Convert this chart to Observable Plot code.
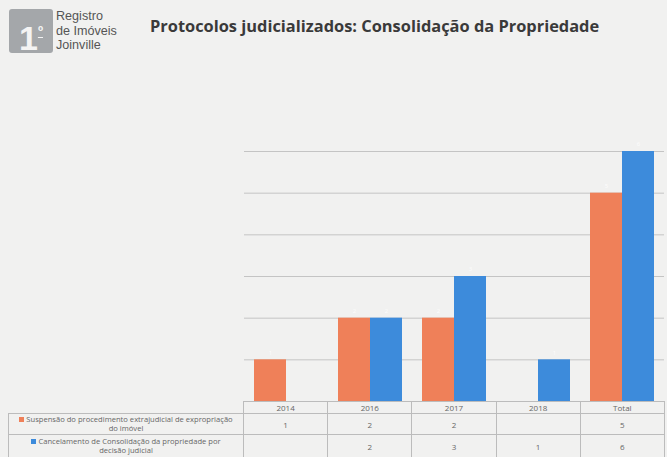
<!DOCTYPE html>
<html><head><meta charset="utf-8">
<script src="https://cdn.jsdelivr.net/npm/d3@7"></script>
<script src="https://cdn.jsdelivr.net/npm/@observablehq/plot@0.6"></script>
<style>
  body{margin:0;width:667px;height:457px;overflow:hidden;background:#f1f1f0;font-family:"Open Sans",sans-serif;position:relative}
  #logo{position:absolute;left:9px;top:9px;width:44px;height:44px;background:#a4a7aa;border-radius:3px;color:#f4f4f4;font:bold 34px/44px "Liberation Sans",sans-serif;text-align:center}
  #logo sup{font-size:14px;vertical-align:14px;text-decoration:underline}
  #brand{position:absolute;left:56px;top:9px;font:12.6px/14.5px "Liberation Sans",sans-serif;color:#555}
  #title{position:absolute;left:150px;top:14px;font:700 16.4px "Open Sans",sans-serif;color:#3a3a3a;white-space:nowrap}
  #chart{position:absolute;left:0;top:130px}
  table{position:absolute;left:8px;top:401px;border-collapse:collapse;table-layout:fixed;color:#666}
  td{border:1px solid #bcbcbc;text-align:center;padding:0;font-size:8px;overflow:hidden}
  td.lab{text-align:center;font-size:7.6px;line-height:9.5px;padding:0 8px}
  tr.h td{height:10px}
  tr.h td:first-child{border:none}
  tr.r1 td{height:20px}
  tr.r2 td{height:22px}
  .sw{display:inline-block;width:5px;height:5px;margin-right:2px}
</style></head>
<body>
<div id="logo">1<sup>º</sup></div>
<div id="brand">Registro<br>de Imóveis<br>Joinville</div>
<div id="title">Protocolos judicializados: Consolidação da Propriedade</div>
<div id="chart"></div>
<table id="tbl"></table>
<script>
const categories = ["2014", "2016", "2017", "2018", "Total"];
const seriesNames = [
  "Suspensão do procedimento extrajudicial de expropriação do imóvel",
  "Cancelamento de Consolidação da propriedade por decisão judicial"
];
const suspensao = [1, 2, 2, null, 5];
const cancelamento = [null, 2, 3, 1, 6];
const colors = ["#ef8059", "#3d8bdb"];
const gridTicks = [1, 2, 3, 4, 5, 6];

const data = [];
categories.forEach((c, i) => {
  if (suspensao[i] != null) data.push({cat: c, s: seriesNames[0], v: suspensao[i]});
  if (cancelamento[i] != null) data.push({cat: c, s: seriesNames[1], v: cancelamento[i]});
});

const chart = Plot.plot({
  width: 667, height: 271,
  marginLeft: 243, marginRight: 3, marginTop: 21, marginBottom: 0,
  style: {background: "transparent"},
  fx: {domain: categories, paddingInner: 0, paddingOuter: 0, axis: null},
  x: {domain: seriesNames, paddingInner: 0, paddingOuter: 0.3125, axis: null},
  y: {domain: [0, 6], axis: null},
  color: {domain: seriesNames, range: colors},
  marks: [
    Plot.gridY(gridTicks, {stroke: "#c4c4c4", strokeOpacity: 1, strokeWidth: 1}),
    Plot.barY(data, {fx: "cat", x: "s", y: "v", fill: "s"}),
    Plot.text(data, {fx: "cat", x: "s", y: "v", text: d => String(d.v), dy: -7, fill: "#ffffff", fontSize: 6, opacity: 0.85})
  ]
});
document.getElementById("chart").appendChild(chart);

// data table below chart
const tbl = document.getElementById("tbl");
const colW = 421 / categories.length;
const cg = document.createElement("colgroup");
[235, ...categories.map(() => colW)].forEach(w => {
  const col = document.createElement("col"); col.style.width = w + "px"; cg.appendChild(col);
});
tbl.appendChild(cg);
const hr = tbl.insertRow(); hr.className = "h";
hr.insertCell();
categories.forEach(c => { const td = hr.insertCell(); td.textContent = c; });
[suspensao, cancelamento].forEach((vals, k) => {
  const tr = tbl.insertRow(); tr.className = "r" + (k + 1);
  const lab = tr.insertCell(); lab.className = "lab";
  lab.innerHTML = `<span class="sw" style="background:${colors[k]}"></span>` + seriesNames[k];
  vals.forEach(v => { const td = tr.insertCell(); td.textContent = v == null ? "" : v; });
});
</script>
</body></html>
